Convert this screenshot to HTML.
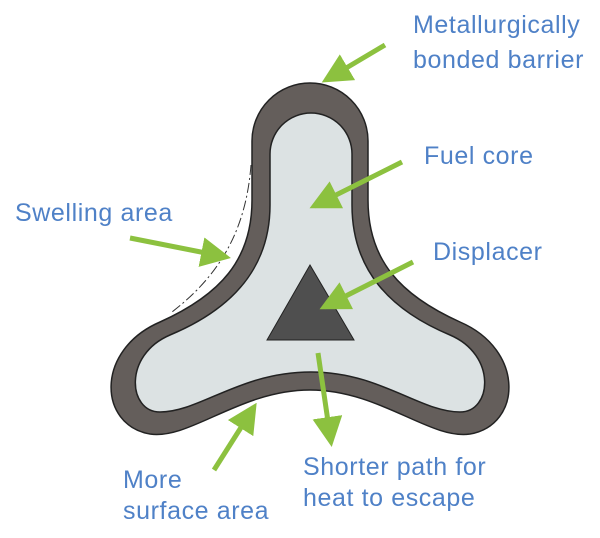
<!DOCTYPE html>
<html><head><style>
body{margin:0;background:#fff;width:600px;height:538px;overflow:hidden}
svg{display:block}
text{font-family:"Liberation Sans",sans-serif;font-size:25px;letter-spacing:0.6px;fill:#4f81c7}
</style></head><body>
<svg width="600" height="538" viewBox="0 0 600 538">
<defs>
<marker id="a" markerWidth="6" markerHeight="6" refX="5" refY="3" orient="auto" markerUnits="strokeWidth">
<path d="M0,0 L6,3 L0,6 Z" fill="#8cc13f"/>
</marker>
</defs>
<path d="M252,141 A58,58 0 0 1 368,141 L368,200 C368,260 400,295 460,322 C525,350 522,425 470,434 C430,440 380,390 310,390 C240,390 190,440 150,434 C98,425 95,350 160,322 C220,295 252,260 252,200 Z" fill="#645e5b" stroke="#222" stroke-width="1.5"/>
<path d="M270,154 A41,41 0 0 1 352,154 L352,205 C352,270 390,310 450,335 C497,355 492,412 460,412 C420,412 380,372 311,372 C240,372 200,412 160,412 C128,412 123,355 170,335 C230,310 270,270 270,205 Z" fill="#dce2e3" stroke="#222" stroke-width="1.5"/>
<path d="M251,165 C246,230 220,275 172,312" fill="none" stroke="#333" stroke-width="1" stroke-dasharray="10,3,2,3"/>
<polygon points="310,265 267,340 354,340" fill="#4f4f4f" stroke="#222" stroke-width="1"/>
<g stroke="#8cc13f" stroke-width="5" marker-end="url(#a)" fill="none">
<line x1="385" y1="45" x2="326" y2="80"/>
<line x1="402" y1="162" x2="314" y2="206"/>
<line x1="130" y1="238" x2="226" y2="257"/>
<line x1="413" y1="262" x2="324" y2="307"/>
<line x1="318" y1="353" x2="331" y2="442"/>
<line x1="214" y1="470" x2="254" y2="407"/>
</g>
<text x="413" y="33">Metallurgically</text>
<text x="413" y="68">bonded barrier</text>
<text x="424" y="164">Fuel core</text>
<text x="433" y="260">Displacer</text>
<text x="15" y="221">Swelling area</text>
<text x="123" y="488">More</text>
<text x="123" y="519">surface area</text>
<text x="303" y="475">Shorter path for</text>
<text x="303" y="506">heat to escape</text>
</svg>
</body></html>
